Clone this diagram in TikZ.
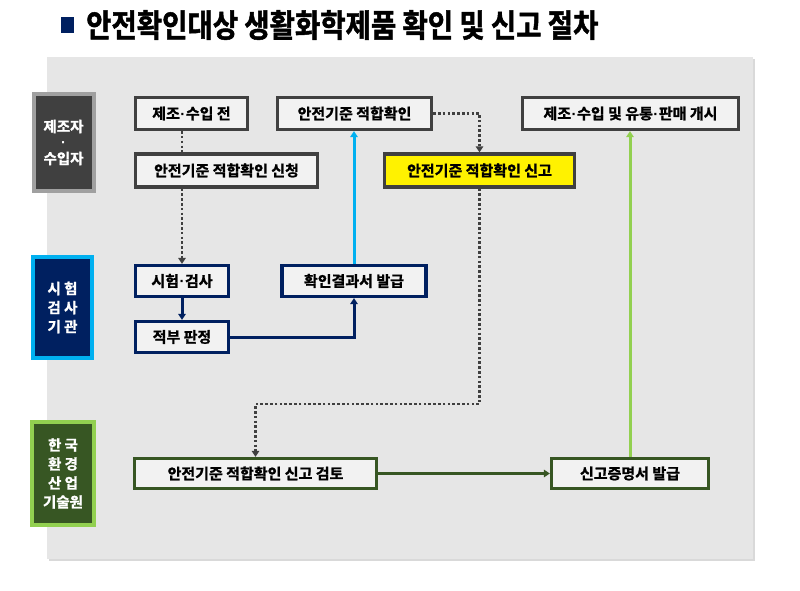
\documentclass[tikz,border=0pt]{standalone}
\usepackage{fontspec}
\setmainfont{Noto Sans CJK KR}[BoldFont={Noto Sans CJK KR Bold}, BoldFeatures={FakeBold=1.2}]
\newfontfamily\titlefont{Noto Sans CJK KR Bold}[FakeStretch=0.86, FakeBold=1.5]
\newfontfamily\dotfont{Liberation Sans}
\newcommand{\middot}{{\dotfont\bfseries\kern0.5pt·\kern0.5pt}}
\usetikzlibrary{arrows.meta,shadows}

\definecolor{panelgrey}{HTML}{E6E6E6}
\definecolor{boxline}{HTML}{404040}
\definecolor{boxfill}{HTML}{F2F2F2}
\definecolor{navy}{HTML}{002060}
\definecolor{skyblue}{HTML}{00B0F0}
\definecolor{darkgreen}{HTML}{375623}
\definecolor{lightgreen}{HTML}{92D050}
\definecolor{labelrim}{HTML}{A0A0A0}

\begin{document}
\begin{tikzpicture}[x=1pt,y=-1pt,
    stepbox/.style={draw=boxline, line width=3.2pt, fill=boxfill,
        inner sep=0pt, font=\fontsize{15}{17}\selectfont\bfseries,
        drop shadow={shadow xshift=1.5pt, shadow yshift=-1.5pt, opacity=0.35}},
    rolebox/.style={line width=4pt, inner sep=0pt, align=center,
        text=white, font=\fontsize{14.5}{19}\selectfont\bfseries,
        drop shadow={shadow xshift=1.5pt, shadow yshift=-1.5pt, opacity=0.3}},
    dotflow/.style={draw=boxline, line width=2.8pt,
        dash pattern=on 2.6pt off 2.2pt},
    flow/.style={line width=3pt},
    tip/.style={-{Triangle[length=6pt,width=7.5pt]}},
    ]
    \useasboundingbox (0,0) rectangle (800,591);
    % title
    \node[fill=navy, minimum width=13pt, minimum height=16pt, inner sep=0pt]
        (bullet) at (67,25) {};
    \node[anchor=west, inner sep=0pt, font=\titlefont\fontsize{32}{35}\selectfont]
        (title) at (86,25) {안전확인대상 생활화학제품 확인 및 신고 절차};
    % grey panel
    \fill[panelgrey, drop shadow={shadow xshift=2pt, shadow yshift=-2pt, opacity=0.3}]
        (47,57) rectangle (753,559);

    % who does it
    \node[rolebox, draw=labelrim, fill=boxline, minimum width=60pt,
        minimum height=97pt] (maker) at (63.5,142.5) {제조자\\[-3pt]\middot\\[-3pt]수입자};
    \node[rolebox, draw=skyblue, fill=navy, minimum width=59pt,
        minimum height=101pt] (lab) at (62.5,307.5) {시 험\\검 사\\기 관};
    \node[rolebox, draw=lightgreen, fill=darkgreen, minimum width=62pt,
        minimum height=103pt] (keiti) at (63,473.5) {한 국\\환 경\\산 업\\기술원};

    % maker row
    \node[stepbox, minimum width=112pt, minimum height=32pt] (before) at (191.5,113.5) {제조\middot 수입 전};
    \node[stepbox, minimum width=154pt, minimum height=32pt] (check) at (354.5,113.5) {안전기준 적합확인};
    \node[stepbox, minimum width=216pt, minimum height=32pt] (launch) at (630.5,113.5) {제조\middot 수입 및 유통\middot 판매 개시};
    \node[stepbox, minimum width=182pt, minimum height=33pt] (apply) at (226.5,170.5) {안전기준 적합확인 신청};
    \node[stepbox, fill=yellow, minimum width=190pt, minimum height=33pt] (report) at (479.5,170.5) {안전기준 적합확인 신고};

    % lab row
    \node[stepbox, draw=navy, minimum width=93pt, minimum height=31pt] (test) at (182,281) {시험\middot 검사};
    \node[stepbox, draw=navy, minimum width=93pt, minimum height=31pt] (judge) at (182,337) {적부 판정};
    \node[stepbox, draw=navy, minimum width=144pt, minimum height=31pt] (result) at (354,281) {확인결과서 발급};

    % keiti row
    \node[stepbox, draw=darkgreen, minimum width=242pt, minimum height=30pt] (review) at (255.5,473.5) {안전기준 적합확인 신고 검토};
    \node[stepbox, draw=darkgreen, minimum width=157pt, minimum height=30pt] (cert) at (630,473.5) {신고증명서 발급};

    % connectors
    \coordinate (turn) at (0,404);
    \draw[dotflow] (before.south -| test.north) -- (apply.north -| test.north);
    \draw[dotflow, tip, boxline] (apply.south -| test.north) -- (test.north);
    \draw[dotflow, tip, boxline] (check.east) -| (report.north);
    \draw[dotflow, tip, boxline] (report.south) |- (turn -| review.north) -- (review.north);
    \draw[flow, tip, navy] (test.south) -- (judge.north);
    \draw[flow, tip, navy] (judge.east) -| (result.south);
    \draw[flow, tip, skyblue] (result.north) -- (result.north |- check.south);
    \draw[flow, tip, darkgreen] (review.east) -- (cert.west);
    \draw[flow, tip, lightgreen] (cert.north) -- (cert.north |- launch.south);
\end{tikzpicture}
\end{document}
